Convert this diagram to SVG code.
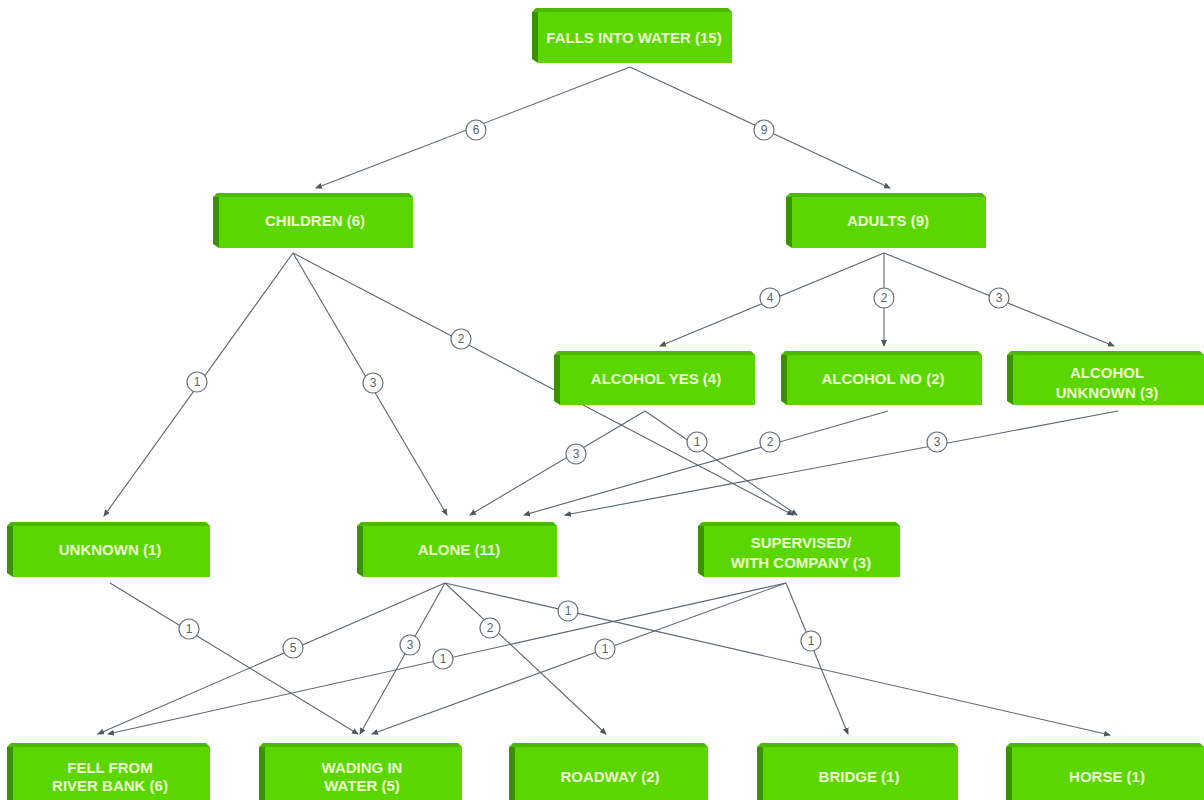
<svg xmlns="http://www.w3.org/2000/svg" width="1204" height="800" viewBox="0 0 1204 800">
<defs>
<style>
.front{fill:#5cd600}
.top{fill:#4cb800}
.side{fill:#3b9200}
.lbl{font-family:"Liberation Sans",Arial,sans-serif;font-weight:bold;font-size:15px;fill:#eaffcf;text-anchor:middle}
.edge{stroke:#5c6670;stroke-width:1.1;fill:none;marker-end:url(#arr)}
.badge circle{fill:#ffffff;stroke:#6a737c;stroke-width:1.2}
.badge text{font-family:"Liberation Sans",Arial,sans-serif;font-size:12px;fill:#5a626a;text-anchor:middle}
</style>
<marker id="arr" markerWidth="7" markerHeight="6" refX="6" refY="3" orient="auto" markerUnits="userSpaceOnUse">
<path d="M0,0 L7,3 L0,6 z" fill="#4f5963"/>
</marker>
</defs>
<rect width="1204" height="800" fill="#ffffff"/>

<g id="connectors">
<line class="edge" x1="630" y1="67" x2="316" y2="188"/>
<line class="edge" x1="630" y1="67" x2="890" y2="188"/>
<line class="edge" x1="293" y1="253" x2="104" y2="516"/>
<line class="edge" x1="293" y1="253" x2="447" y2="515"/>
<line class="edge" x1="293" y1="253" x2="793" y2="515"/>
<line class="edge" x1="884" y1="253" x2="660" y2="346"/>
<line class="edge" x1="884" y1="253" x2="884" y2="346"/>
<line class="edge" x1="884" y1="253" x2="1114" y2="346"/>
<line class="edge" x1="645" y1="411" x2="470" y2="515"/>
<line class="edge" x1="645" y1="411" x2="797" y2="515"/>
<line class="edge" x1="888" y1="411" x2="524" y2="515"/>
<line class="edge" x1="1118" y1="411" x2="565" y2="515"/>
<line class="edge" x1="110" y1="583" x2="358" y2="734"/>
<line class="edge" x1="445" y1="583" x2="98" y2="734"/>
<line class="edge" x1="445" y1="583" x2="360" y2="734"/>
<line class="edge" x1="445" y1="583" x2="606" y2="734"/>
<line class="edge" x1="445" y1="583" x2="1110" y2="735"/>
<line class="edge" x1="786" y1="583" x2="108" y2="734"/>
<line class="edge" x1="786" y1="583" x2="372" y2="734"/>
<line class="edge" x1="786" y1="583" x2="848" y2="734"/>

<g class="badge"><circle cx="476" cy="130" r="10"/><text x="476" y="134">6</text></g>
<g class="badge"><circle cx="764" cy="130" r="10"/><text x="764" y="134">9</text></g>
<g class="badge"><circle cx="197" cy="382" r="10"/><text x="197" y="386">1</text></g>
<g class="badge"><circle cx="373" cy="383" r="10"/><text x="373" y="387">3</text></g>
<g class="badge"><circle cx="461" cy="339" r="10"/><text x="461" y="343">2</text></g>
<g class="badge"><circle cx="770" cy="298" r="10"/><text x="770" y="302">4</text></g>
<g class="badge"><circle cx="884" cy="298" r="10"/><text x="884" y="302">2</text></g>
<g class="badge"><circle cx="999" cy="298" r="10"/><text x="999" y="302">3</text></g>
<g class="badge"><circle cx="576" cy="454" r="10"/><text x="576" y="458">3</text></g>
<g class="badge"><circle cx="697" cy="442" r="10"/><text x="697" y="446">1</text></g>
<g class="badge"><circle cx="770" cy="442" r="10"/><text x="770" y="446">2</text></g>
<g class="badge"><circle cx="937" cy="442" r="10"/><text x="937" y="446">3</text></g>
<g class="badge"><circle cx="189" cy="629" r="10"/><text x="189" y="633">1</text></g>
<g class="badge"><circle cx="293" cy="648" r="10"/><text x="293" y="652">5</text></g>
<g class="badge"><circle cx="410" cy="645" r="10"/><text x="410" y="649">3</text></g>
<g class="badge"><circle cx="490" cy="628" r="10"/><text x="490" y="632">2</text></g>
<g class="badge"><circle cx="568" cy="611" r="10"/><text x="568" y="615">1</text></g>
<g class="badge"><circle cx="443" cy="659" r="10"/><text x="443" y="663">1</text></g>
<g class="badge"><circle cx="605" cy="649" r="10"/><text x="605" y="653">1</text></g>
<g class="badge"><circle cx="811" cy="641" r="10"/><text x="811" y="645">1</text></g>
</g>

<g id="n-falls">
<polygon class="top" points="532,12 536,8 728,8 732,12"/>
<polygon class="side" points="532,12 538,12 538,63 532,59"/>
<rect class="front" x="538" y="12" width="194" height="51"/>
<text class="lbl" x="634" y="43">FALLS INTO WATER (15)</text>
</g>

<g id="n-children">
<polygon class="top" points="213,197 217,193 409,193 413,197"/>
<polygon class="side" points="213,197 219,197 219,248 213,244"/>
<rect class="front" x="219" y="197" width="194" height="51"/>
<text class="lbl" x="315" y="226">CHILDREN (6)</text>
</g>

<g id="n-adults">
<polygon class="top" points="786,197 790,193 982,193 986,197"/>
<polygon class="side" points="786,197 792,197 792,248 786,244"/>
<rect class="front" x="792" y="197" width="194" height="51"/>
<text class="lbl" x="888" y="226">ADULTS (9)</text>
</g>

<g id="n-alcyes">
<polygon class="top" points="554,355 558,351 751,351 755,355"/>
<polygon class="side" points="554,355 560,355 560,405 554,401"/>
<rect class="front" x="560" y="355" width="195" height="50"/>
<text class="lbl" x="656" y="384">ALCOHOL YES (4)</text>
</g>

<g id="n-alcno">
<polygon class="top" points="781,355 785,351 978,351 982,355"/>
<polygon class="side" points="781,355 787,355 787,405 781,401"/>
<rect class="front" x="787" y="355" width="195" height="50"/>
<text class="lbl" x="883" y="384">ALCOHOL NO (2)</text>
</g>

<g id="n-alcunk">
<polygon class="top" points="1007,355 1011,351 1200,351 1204,355"/>
<polygon class="side" points="1007,355 1013,355 1013,405 1007,401"/>
<rect class="front" x="1013" y="355" width="191" height="50"/>
<text class="lbl" x="1107" y="378">ALCOHOL</text>
<text class="lbl" x="1107" y="398">UNKNOWN (3)</text>
</g>

<g id="n-unknown">
<polygon class="top" points="7,526 11,522 206,522 210,526"/>
<polygon class="side" points="7,526 13,526 13,577 7,573"/>
<rect class="front" x="13" y="526" width="197" height="51"/>
<text class="lbl" x="110" y="555">UNKNOWN (1)</text>
</g>

<g id="n-alone">
<polygon class="top" points="357,526 361,522 553,522 557,526"/>
<polygon class="side" points="357,526 363,526 363,577 357,573"/>
<rect class="front" x="363" y="526" width="194" height="51"/>
<text class="lbl" x="459" y="555">ALONE (11)</text>
</g>

<g id="n-supervised">
<polygon class="top" points="698,526 702,522 896,522 900,526"/>
<polygon class="side" points="698,526 704,526 704,577 698,573"/>
<rect class="front" x="704" y="526" width="196" height="51"/>
<text class="lbl" x="801" y="548">SUPERVISED/</text>
<text class="lbl" x="801" y="568">WITH COMPANY (3)</text>
</g>

<g id="n-fell">
<polygon class="top" points="7,747 11,743 206,743 210,747"/>
<polygon class="side" points="7,747 13,747 13,800 7,800"/>
<rect class="front" x="13" y="747" width="197" height="53"/>
<text class="lbl" x="110" y="773">FELL FROM</text>
<text class="lbl" x="110" y="791">RIVER BANK (6)</text>
</g>

<g id="n-wading">
<polygon class="top" points="259,747 263,743 458,743 462,747"/>
<polygon class="side" points="259,747 265,747 265,800 259,800"/>
<rect class="front" x="265" y="747" width="197" height="53"/>
<text class="lbl" x="362" y="773">WADING IN</text>
<text class="lbl" x="362" y="791">WATER (5)</text>
</g>

<g id="n-roadway">
<polygon class="top" points="509,747 513,743 704,743 708,747"/>
<polygon class="side" points="509,747 515,747 515,800 509,800"/>
<rect class="front" x="515" y="747" width="193" height="53"/>
<text class="lbl" x="610" y="782">ROADWAY (2)</text>
</g>

<g id="n-bridge">
<polygon class="top" points="757,747 761,743 954,743 958,747"/>
<polygon class="side" points="757,747 763,747 763,800 757,800"/>
<rect class="front" x="763" y="747" width="195" height="53"/>
<text class="lbl" x="859" y="782">BRIDGE (1)</text>
</g>

<g id="n-horse">
<polygon class="top" points="1006,747 1010,743 1200,743 1204,747"/>
<polygon class="side" points="1006,747 1012,747 1012,800 1006,800"/>
<rect class="front" x="1012" y="747" width="192" height="53"/>
<text class="lbl" x="1107" y="782">HORSE (1)</text>
</g>
</svg>
